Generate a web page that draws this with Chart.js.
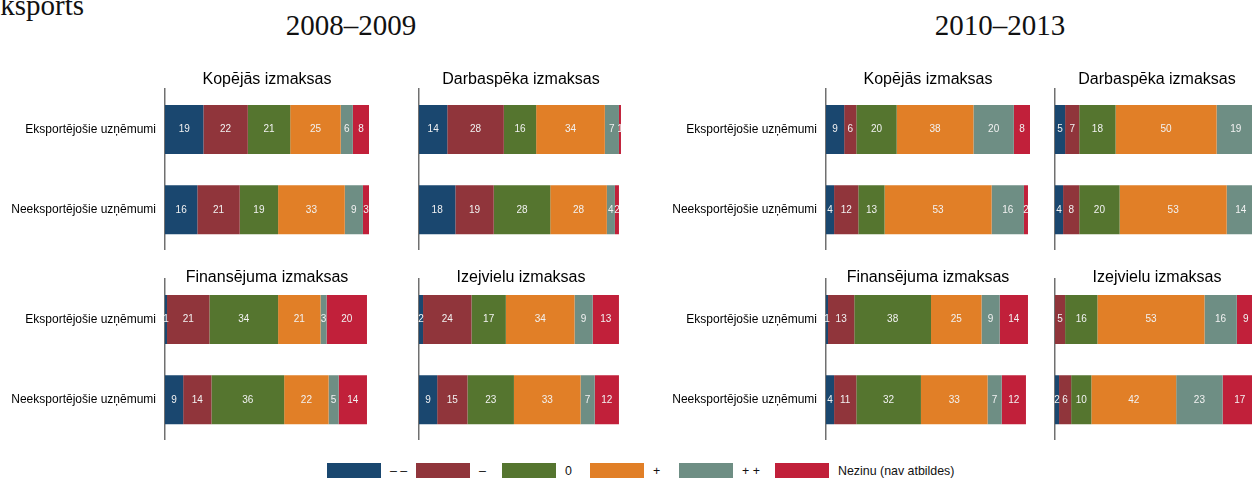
<!DOCTYPE html>
<html>
<head>
<meta charset="utf-8">
<script src="https://cdn.jsdelivr.net/npm/chart.js@4.4.1/dist/chart.umd.min.js"></script>
<style>
  html, body { margin: 0; padding: 0; background: #fff; }
  body { width: 1252px; height: 479px; overflow: hidden; position: relative; font-family: 'Liberation Sans', Arial, sans-serif; }
  .box { position: absolute; }
  .serif { position: absolute; font-family: 'Liberation Serif', 'Times New Roman', serif; font-size: 29px; line-height: 29px; color: #111; white-space: nowrap; }
  .leg { position: absolute; top: 463px; height: 15px; display: flex; align-items: center; font-size: 12.4px; color: #111; white-space: nowrap; }
  .leg span.sw { display: inline-block; width: 54px; height: 15px; margin-right: 9px; }
</style>
</head>
<body>
<div class="serif" style="left:-17.5px; top:-9px;">Eksports</div>
<div class="serif" id="p0" style="left:351px; top:11px; transform:translateX(-50%);"></div>
<div class="serif" id="p1" style="left:1000px; top:11px; transform:translateX(-50%);"></div>
<div id="legend"></div>
<div id="charts"></div>

<script>
// categories and series
const periods = ['2008–2009', '2010–2013'];
const companyTypes = ['Eksportējošie uzņēmumi', 'Neeksportējošie uzņēmumi'];
const costTypes = ['Kopējās izmaksas', 'Darbaspēka izmaksas', 'Finansējuma izmaksas', 'Izejvielu izmaksas'];
const seriesNames = ['– –', '–', '0', '+', '+ +', 'Nezinu (nav atbildes)'];
const seriesColors = ['#1a476f', '#90353b', '#55752f', '#e17f27', '#6e8e84', '#c1203a'];

// % of firms, rows: exporting / non-exporting, columns follow seriesNames
const kopejas0809 = [[19, 22, 21, 25, 6, 8], [16, 21, 19, 33, 9, 3]];
const darbaspeka0809 = [[14, 28, 16, 34, 7, 1], [18, 19, 28, 28, 4, 2]];
const finansejuma0809 = [[1, 21, 34, 21, 3, 20], [9, 14, 36, 22, 5, 14]];
const izejvielu0809 = [[2, 24, 17, 34, 9, 13], [9, 15, 23, 33, 7, 12]];
const kopejas1013 = [[9, 6, 20, 38, 20, 8], [4, 12, 13, 53, 16, 2]];
const darbaspeka1013 = [[5, 7, 18, 50, 19, 1], [4, 8, 20, 53, 14, 1]];
const finansejuma1013 = [[1, 13, 38, 25, 9, 14], [4, 11, 32, 33, 7, 12]];
const izejvielu1013 = [[0, 5, 16, 53, 16, 9], [2, 6, 10, 42, 23, 17]];

document.getElementById('p0').textContent = periods[0];
document.getElementById('p1').textContent = periods[1];

// legend
const legendLefts = [327, 416, 502, 590, 679, 775];
const legendEl = document.getElementById('legend');
seriesNames.forEach((name, i) => {
  const d = document.createElement('div');
  d.className = 'leg';
  d.style.left = legendLefts[i] + 'px';
  d.innerHTML = '<span class="sw" style="background:' + seriesColors[i] + '"></span>';
  d.appendChild(document.createTextNode(name));
  legendEl.appendChild(d);
});

// value labels inside the segments
const valueLabels = {
  id: 'valueLabels',
  afterDatasetsDraw(chart) {
    const c = chart.ctx;
    c.save();
    c.font = '10px "Liberation Sans", Arial, sans-serif';
    c.fillStyle = '#f2f2f2';
    c.textAlign = 'center';
    c.textBaseline = 'middle';
    chart.data.datasets.forEach((ds, di) => {
      chart.getDatasetMeta(di).data.forEach((el, j) => {
        const v = ds.data[j];
        if (!v) return;
        c.fillText(v, (el.x + el.base) / 2, el.y);
      });
    });
    c.restore();
  }
};

const LABEL_W = 165;
const AREA_W = 204;

function makePanel(title, rows, withLabels, axisX, chartTop, height, titlePadBottom) {
  const yw = withLabels ? LABEL_W : 4;
  const wrap = document.createElement('div');
  wrap.className = 'box';
  wrap.style.left = (axisX - yw) + 'px';
  wrap.style.top = chartTop + 'px';
  wrap.style.width = (yw + AREA_W) + 'px';
  wrap.style.height = height + 'px';
  const cv = document.createElement('canvas');
  wrap.appendChild(cv);
  document.getElementById('charts').appendChild(wrap);

  new Chart(cv, {
    type: 'bar',
    data: {
      labels: companyTypes,
      datasets: seriesNames.map((name, i) => ({
        label: name,
        data: rows.map(r => r[i]),
        backgroundColor: seriesColors[i],
        barPercentage: 0.61,
        categoryPercentage: 1
      }))
    },
    plugins: [valueLabels],
    options: {
      indexAxis: 'y',
      responsive: true,
      maintainAspectRatio: false,
      animation: false,
      layout: { padding: 0 },
      scales: {
        x: { stacked: true, display: false, min: 0, max: 101 },
        y: {
          stacked: true,
          grid: { display: false, drawTicks: false },
          border: { display: true, color: '#707070', width: 1.5 },
          ticks: {
            display: withLabels,
            padding: 9,
            color: '#000',
            font: { family: '"Liberation Sans", Arial, sans-serif', size: 12 }
          },
          afterFit: s => {
            s.width = yw;
            s.paddingTop = 0;
            s.paddingBottom = 0;
          }
        }
      },
      plugins: {
        legend: { display: false },
        tooltip: { enabled: false },
        title: {
          display: true,
          text: title,
          fullSize: false,
          color: '#000',
          font: { family: '"Liberation Sans", Arial, sans-serif', size: 16, weight: 'normal' },
          padding: { top: 0, bottom: titlePadBottom }
        }
      }
    }
  });
}

// 2008–2009
makePanel(costTypes[0], kopejas0809, true, 165, 70, 180, 0);
makePanel(costTypes[1], darbaspeka0809, false, 419, 70, 180, 0);
makePanel(costTypes[2], finansejuma0809, true, 165, 268, 172, -8);
makePanel(costTypes[3], izejvielu0809, false, 419, 268, 172, -8);
// 2010–2013
makePanel(costTypes[0], kopejas1013, true, 826, 70, 180, 0);
makePanel(costTypes[1], darbaspeka1013, false, 1055, 70, 180, 0);
makePanel(costTypes[2], finansejuma1013, true, 826, 268, 172, -8);
makePanel(costTypes[3], izejvielu1013, false, 1055, 268, 172, -8);
</script>
</body>
</html>
